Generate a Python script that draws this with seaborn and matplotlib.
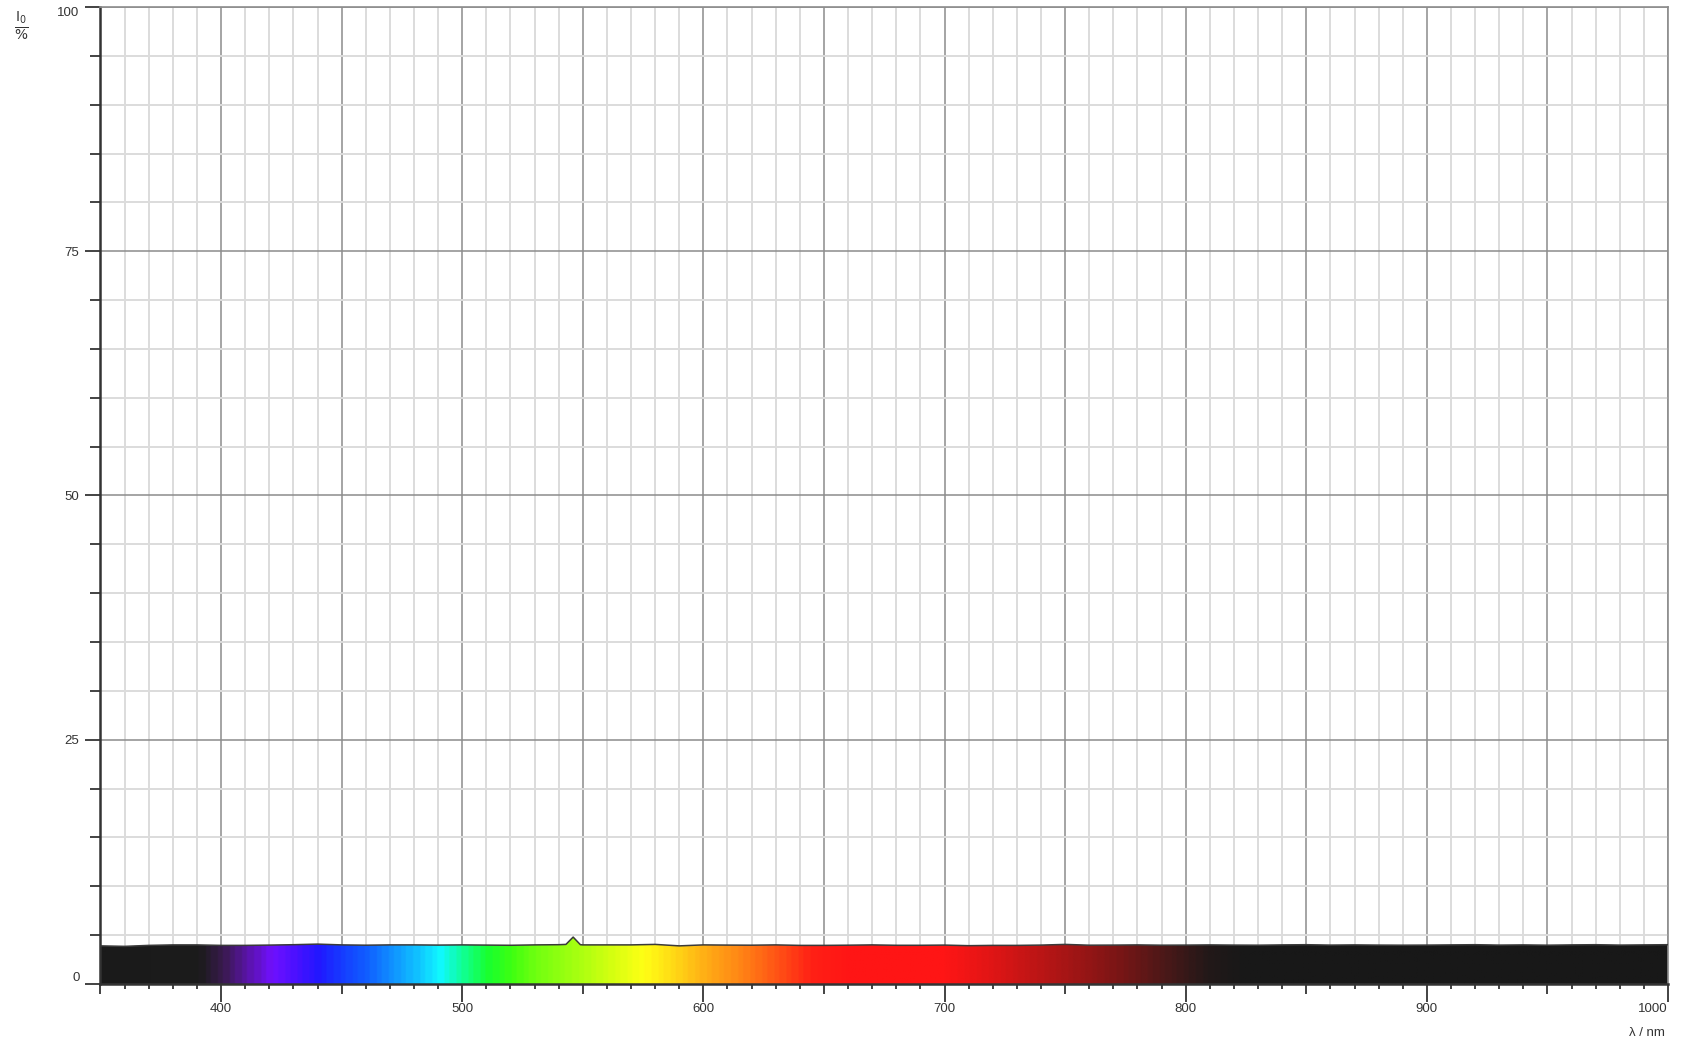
import numpy as np
import seaborn as sns
from matplotlib import pyplot as plt
from matplotlib.colors import LinearSegmentedColormap
from matplotlib.ticker import MultipleLocator, FixedLocator

# spectrum (nm, %)
wavelength = [350, 360, 370, 380, 390, 400, 410, 420, 430, 440, 450, 460, 470, 480,
              490, 500, 510, 520, 530, 540, 543, 546, 549, 550, 560, 570, 580, 590,
              600, 610, 620, 630, 640, 650, 660, 670, 680, 690, 700, 710, 720, 730,
              740, 750, 760, 770, 780, 790, 800, 810, 820, 830, 840, 850, 860, 870,
              880, 890, 900, 910, 920, 930, 940, 950, 960, 970, 980, 990, 1000]
intensity = [3.90, 3.85, 3.95, 4.00, 4.00, 3.95, 3.95, 3.98, 4.02, 4.08, 4.00, 3.97, 4.00, 4.00,
             3.98, 4.00, 3.98, 3.96, 4.00, 4.02, 4.05, 4.80, 4.02, 4.00, 4.00, 4.00, 4.05, 3.90,
             4.00, 3.98, 3.97, 4.00, 3.95, 3.95, 3.97, 4.00, 3.96, 3.96, 3.98, 3.92, 3.95, 3.95,
             3.98, 4.05, 3.97, 3.98, 4.00, 3.97, 3.98, 4.00, 3.98, 3.97, 4.00, 4.02, 3.98, 4.00,
             3.98, 3.97, 3.98, 4.00, 4.02, 3.98, 4.00, 3.97, 4.00, 4.02, 3.98, 4.00, 4.02]

x_labels = ['400', '500', '600', '700', '800', '900', '1000']
y_labels = ['0', '25', '50', '75', '100']

# colour ramp for the visible band
spec_nodes = [(350, '#1a1a1a'), (390, '#1c1c1c'), (400, '#3a1a50'), (410, '#5a14a8'),
              (420, '#7010ff'), (430, '#4a10ff'), (440, '#2018ff'), (450, '#1540ff'),
              (460, '#1060ff'), (470, '#1090ff'), (480, '#10c0ff'), (490, '#10f8ff'),
              (500, '#10ff90'), (510, '#18ff30'), (520, '#40ff10'), (530, '#70ff10'),
              (545, '#a0ff10'), (560, '#d0ff10'), (575, '#ffff15'), (590, '#ffd015'),
              (600, '#ffb015'), (615, '#ff8515'), (630, '#ff5515'), (645, '#ff2015'),
              (660, '#ff1515'), (700, '#ff1515'), (720, '#e01515'), (750, '#a81515'),
              (770, '#801515'), (790, '#501818'), (810, '#221818'), (825, '#181818'),
              (1000, '#181818')]

PX = 0.72  # points per pixel at 100 dpi


def make_cmap():
    lo, hi = spec_nodes[0][0], spec_nodes[-1][0]
    return LinearSegmentedColormap.from_list(
        'spec', [((w - lo) / (hi - lo), c) for w, c in spec_nodes])


def main():
    sns.set_style('white')
    plt.rcParams['font.family'] = ['Liberation Sans', 'DejaVu Sans']

    fig = plt.figure(figsize=(16.83, 10.45), dpi=100)
    ax = fig.add_axes([0.0597, 0.0584, 0.9314, 0.9349])

    ax.set_xlim(350, 1000)
    ax.set_ylim(0, 100)

    # coloured fill under the curve
    poly = ax.fill_between(wavelength, 0, intensity, color='none', lw=0)
    ramp = np.arange(350, 1001).reshape(1, -1)
    img = ax.imshow(ramp, cmap=make_cmap(), aspect='auto',
                    extent=[350, 1000, 0, 6], origin='lower', zorder=2)
    img.set_clip_path(poly.get_paths()[0], transform=ax.transData)

    sns.lineplot(x=wavelength, y=intensity, color='#3a3a3a', lw=1.1, ax=ax, zorder=3)

    # grid
    ax.xaxis.set_major_locator(FixedLocator(np.arange(350, 1001, 50)))
    ax.xaxis.set_minor_locator(MultipleLocator(10))
    ax.yaxis.set_major_locator(FixedLocator([0, 25, 50, 75, 100]))
    ax.yaxis.set_minor_locator(MultipleLocator(5))
    ax.grid(which='major', color='#8c8c8c', lw=1.1, zorder=0)
    ax.grid(which='minor', color='#dcdcdc', lw=1.4, zorder=0)
    ax.set_axisbelow(True)

    xt = []
    for v in range(350, 1001, 50):
        xt.append(x_labels[(v - 400) // 100] if v % 100 == 0 and v >= 400 else '')
    ax.set_xticklabels(xt)
    ax.set_yticklabels(y_labels)

    ax.tick_params(axis='both', which='both', direction='out', colors='#222222',
                   labelcolor='#333333', labelsize=9.5, width=1.2,
                   bottom=True, left=True, top=False, right=False)
    ax.tick_params(axis='x', which='major', length=18 * PX, pad=1)
    ax.tick_params(axis='x', which='minor', length=5 * PX)
    ax.tick_params(axis='y', which='major', length=15 * PX, pad=6 * PX)
    ax.tick_params(axis='y', which='minor', length=10 * PX)
    for v, t in zip(range(350, 1001, 50), ax.xaxis.get_major_ticks()):
        if v % 100 != 0:
            t.tick1line.set_markersize(10 * PX)

    ax.get_xticklabels()[-1].set_ha('right')
    ax.get_yticklabels()[-1].set_va('top')
    ax.get_yticklabels()[0].set_va('bottom')

    for side in ['left', 'bottom']:
        ax.spines[side].set_color('#333333')
        ax.spines[side].set_linewidth(1.8)
    for side in ['top', 'right']:
        ax.spines[side].set_color('#8c8c8c')
        ax.spines[side].set_linewidth(1.2)

    fig.text(1665 / 1683, 1 - 1033 / 1045, 'λ / nm', ha='right', va='center',
             fontsize=9.5, color='#333333')
    fig.text(21 / 1683, 1 - 26 / 1045, r'$\frac{\mathrm{I}_0}{\%}$', ha='center',
             va='center', fontsize=14, color='#333333')

    fig.savefig('out.png', dpi=100)


if __name__ == '__main__':
    main()
